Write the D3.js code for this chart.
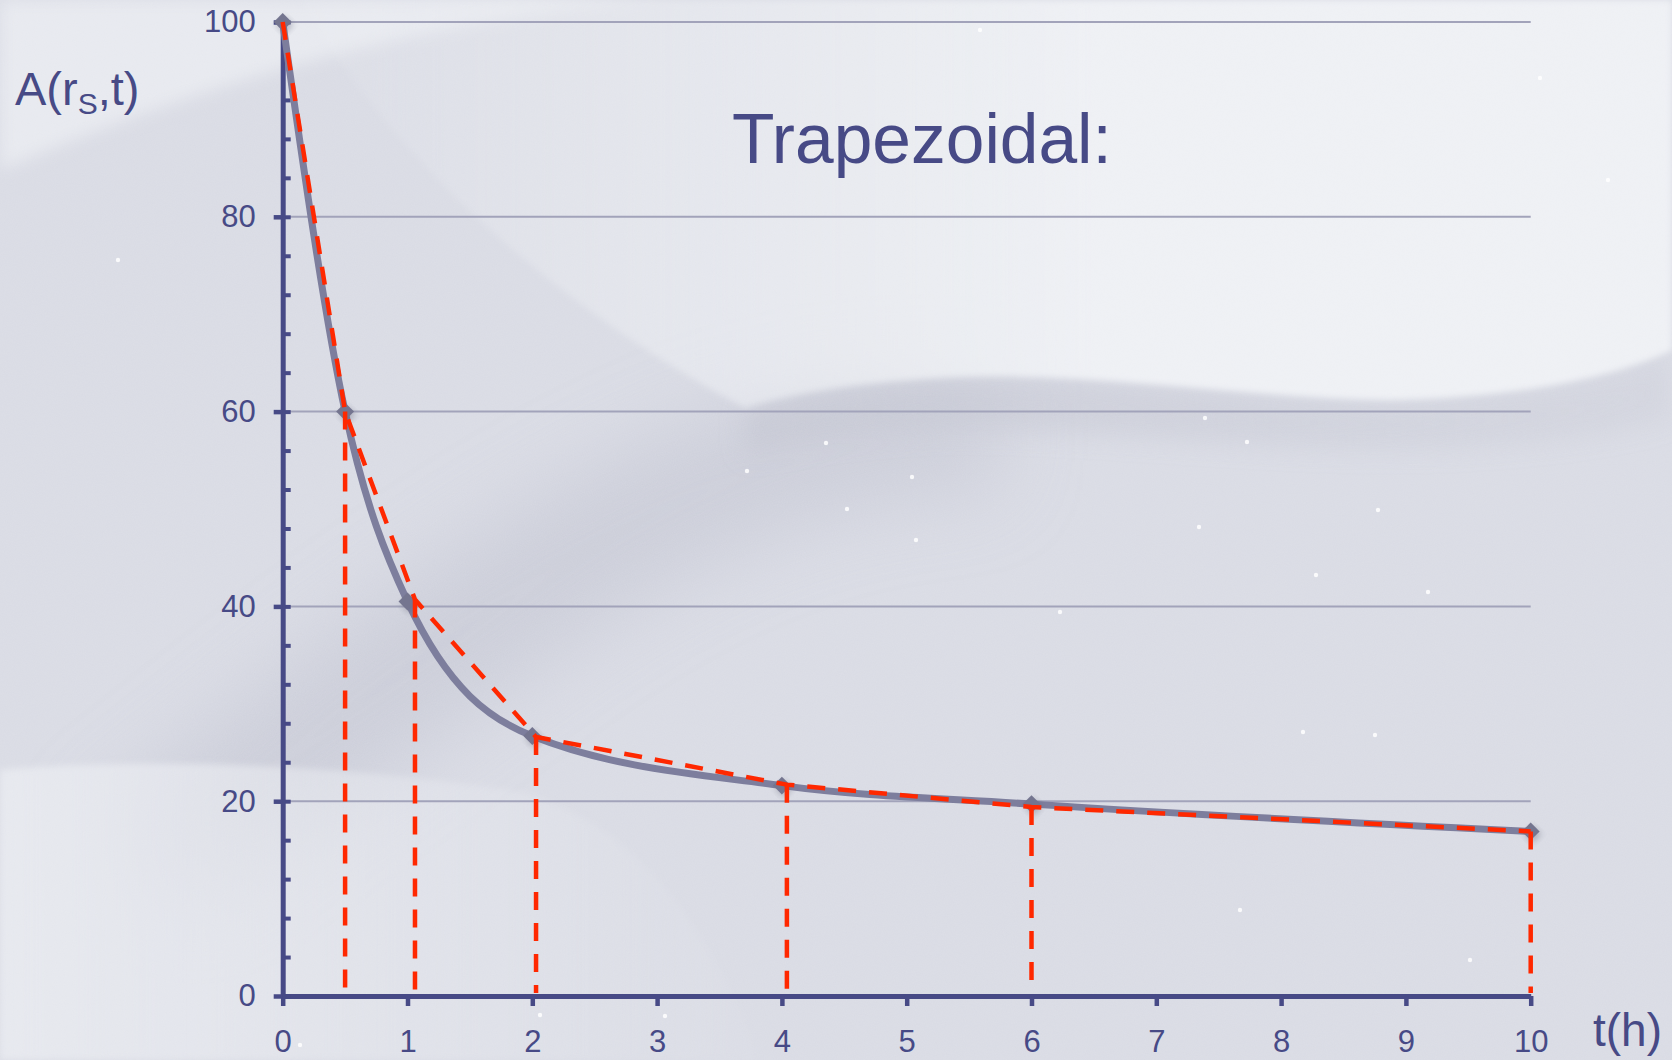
<!DOCTYPE html>
<html>
<head>
<meta charset="utf-8">
<script src="https://cdn.jsdelivr.net/npm/d3@7"></script>
<style>
  body { margin: 0; background: #d9dbe5; overflow: hidden; }
  text { font-family: "Liberation Sans", Arial, Helvetica, sans-serif; fill: #474a86; }
</style>
</head>
<body>
<svg id="chart" width="1672" height="1060"></svg>
<script>
/**
 * Daten: Aktivitaet A(rS,t) gegen Zeit t(h)
 */
var zeiten = [0, 0.5, 1, 2, 4, 6, 10];
var aktivitaet = [100, 60, 40.5, 26.7, 21.6, 19.7, 16.9];

// Trapez-Stuetzstellen (rote Linie), leicht versetzt wie im Bild
var trapezZeiten = [0, 0.5, 1.06, 2.03, 4.04, 6, 10];
var trapezWerte = [100, 60, 40.7, 26.6, 21.7, 19.4, 16.9];

var xTickWerte = [0, 1, 2, 3, 4, 5, 6, 7, 8, 9, 10];
var yTickWerte = [0, 20, 40, 60, 80, 100];
var yNebenTicks = [0, 4, 8, 12, 16, 20, 24, 28, 32, 36, 40, 44, 48, 52, 56, 60,
  64, 68, 72, 76, 80, 84, 88, 92, 96, 100];

var titel = "Trapezoidal:";
var xTitel = "t(h)";

var W = 1672, H = 1060;
var farbeAchse = "#474a86";

var svg = d3.select("#chart");
var defs = svg.append("defs");

var x = d3.scaleLinear().domain([0, 10]).range([282.7, 1530.7]);
var y = d3.scaleLinear().domain([0, 100]).range([996, 22]);

/**
 * Hintergrund: Schneeflaeche
 */
function weichFilter(id, std) {
  defs.append("filter").attr("id", id)
    .attr("x", "-30%").attr("y", "-30%").attr("width", "160%").attr("height", "160%")
    .append("feGaussianBlur").attr("stdDeviation", std);
}
weichFilter("weich40", 40);
weichFilter("weich12", 12);
weichFilter("weich8", 8);
weichFilter("weich3", 3);

function verlauf(id, x1, x2, farbe, o1, o2) {
  var g = defs.append("linearGradient").attr("id", id)
    .attr("gradientUnits", "userSpaceOnUse")
    .attr("x1", x1).attr("y1", 0).attr("x2", x2).attr("y2", 0);
  g.append("stop").attr("offset", 0).attr("stop-color", farbe).attr("stop-opacity", o1);
  g.append("stop").attr("offset", 1).attr("stop-color", farbe).attr("stop-opacity", o2);
}
verlauf("hellRechts", 250, 1100, "#eef0f4", 0, 1);
verlauf("hellLinks", 0, 800, "#e6e8ee", 1, 0);
verlauf("randDunkel", 700, 1672, "#c3c5d1", 0.9, 0.4);

var bg = svg.append("g").attr("class", "hintergrund");
bg.append("rect").attr("width", W).attr("height", H).attr("fill", "#d9dbe4");

// dunkler Schwung diagonal
bg.append("path")
  .attr("d", "M80,830 C250,700 450,520 700,420 C800,385 900,375 1000,385 L1000,490 C850,490 700,550 560,650 C420,750 300,830 200,910 Z")
  .attr("fill", "#c2c4d1").attr("opacity", 0.6).attr("filter", "url(#weich40)");

// Schattenrand unter der hellen Flaeche
bg.append("path")
  .attr("d", "M745,408 C790,394 860,381 960,377 C1100,372 1250,398 1390,400 C1490,398 1600,384 1672,350 L1672,420 C1600,440 1490,450 1390,450 C1250,450 1100,430 960,430 C860,432 790,445 745,455 Z")
  .attr("fill", "url(#randDunkel)").attr("opacity", 0.7).attr("filter", "url(#weich12)");

// obere Ecke links
bg.append("path")
  .attr("d", "M0,0 L660,0 C420,20 210,80 0,170 Z")
  .attr("fill", "#e7e9ef").attr("filter", "url(#weich8)");

// grosse helle Flaeche oben rechts
bg.append("path")
  .attr("d", "M500,0 L1672,0 L1672,350 C1600,384 1490,398 1390,400 C1250,398 1100,372 960,377 C860,381 790,394 745,408 C600,330 420,200 300,0 Z")
  .attr("fill", "url(#hellRechts)").attr("filter", "url(#weich3)");

// heller Streifen unten links
bg.append("path")
  .attr("d", "M0,770 C140,758 330,762 520,792 C620,820 700,900 760,1060 L0,1060 Z")
  .attr("fill", "url(#hellLinks)").attr("filter", "url(#weich3)");

// Koernung
var korn = defs.append("filter").attr("id", "korn");
korn.append("feTurbulence").attr("type", "fractalNoise")
  .attr("baseFrequency", 0.9).attr("numOctaves", 2).attr("seed", 3);
korn.append("feColorMatrix").attr("type", "matrix")
  .attr("values", "0 0 0 0 1  0 0 0 0 1  0 0 0 0 1  0 0 0 0.5 0");
bg.append("rect").attr("width", W).attr("height", H)
  .attr("filter", "url(#korn)").attr("opacity", 0.18);

// einzelne Schneekoerner
var flocken = [[826, 443], [747, 471], [912, 477], [847, 509], [916, 540],
  [1247, 442], [1199, 527], [1316, 575], [1375, 735], [1205, 418], [540, 1015],
  [665, 1016], [1060, 612], [118, 260], [1540, 78], [1608, 180], [980, 30],
  [1240, 910], [300, 1045], [1470, 960], [1378, 510], [1428, 592], [1303, 732]];
bg.selectAll("circle.flocke").data(flocken).enter().append("circle")
  .attr("class", "flocke")
  .attr("cx", function(d) { return d[0]; })
  .attr("cy", function(d) { return d[1]; })
  .attr("r", 2.2)
  .attr("fill", "#ffffff").attr("opacity", 0.85);

/**
 * Gitterlinien
 */
svg.append("g").attr("class", "gitter")
  .selectAll("line").data(yTickWerte.filter(function(d) { return d > 0; }))
  .enter().append("line")
  .attr("x1", x(0)).attr("x2", x(10))
  .attr("y1", function(d) { return y(d); })
  .attr("y2", function(d) { return y(d); })
  .attr("stroke", "#a2a3ba").attr("stroke-width", 2);

/**
 * Achsen
 */
var xAchse = svg.append("g").attr("transform", "translate(0," + y(0) + ")")
  .call(d3.axisBottom(x).tickValues(xTickWerte).tickSizeInner(10).tickSizeOuter(0)
    .tickPadding(0).tickFormat(d3.format("d")));
xAchse.select(".domain").attr("stroke", farbeAchse).attr("stroke-width", 5);
xAchse.selectAll(".tick line").attr("stroke", farbeAchse).attr("stroke-width", 4.5);
// Beschriftung knapp ueber dem unteren Rand
xAchse.selectAll(".tick text")
  .attr("y", 56).attr("dy", null)
  .style("font-size", "31px").style("fill", farbeAchse);

// Nebenstriche rechts der y-Achse
var yNeben = svg.append("g").attr("transform", "translate(" + x(0) + ",0)")
  .call(d3.axisRight(y).tickValues(yNebenTicks).tickSize(8).tickFormat(""));
yNeben.select(".domain").remove();
yNeben.selectAll(".tick line").attr("stroke", farbeAchse).attr("stroke-width", 4);

var yAchse = svg.append("g").attr("transform", "translate(" + x(0) + ",0)")
  .call(d3.axisLeft(y).tickValues(yTickWerte).tickSizeInner(9).tickSizeOuter(0)
    .tickPadding(18));
yAchse.select(".domain").attr("stroke", farbeAchse).attr("stroke-width", 5);
yAchse.selectAll(".tick line").attr("stroke", farbeAchse).attr("stroke-width", 4.5);
yAchse.selectAll(".tick text")
  .style("font-size", "31px").style("fill", farbeAchse);

/**
 * Graue Kurve mit Rauten
 */
var punkte = zeiten.map(function(t, i) { return [t, aktivitaet[i]]; });
var kurve = d3.line()
  .x(function(d) { return x(d[0]); })
  .y(function(d) { return y(d[1]); })
  .curve(d3.curveMonotoneX);

svg.append("path").datum(punkte)
  .attr("d", kurve)
  .attr("fill", "none")
  .attr("stroke", "#7d7e9d")
  .attr("stroke-width", 7)
  .attr("stroke-linejoin", "round");

var raute = d3.symbol().type(d3.symbolSquare).size(160);
var rauten = svg.append("g").attr("class", "rauten");
// Schatten
rauten.selectAll("path.schatten").data(punkte).enter().append("path")
  .attr("class", "schatten")
  .attr("d", raute)
  .attr("transform", function(d) { return "translate(" + (x(d[0]) + 2) + "," + (y(d[1]) + 3) + ") rotate(45)"; })
  .attr("fill", "#5a5b70").attr("opacity", 0.35).attr("filter", "url(#weich3)");
rauten.selectAll("path.raute").data(punkte).enter().append("path")
  .attr("class", "raute")
  .attr("d", raute)
  .attr("transform", function(d) { return "translate(" + x(d[0]) + "," + y(d[1]) + ") rotate(45)"; })
  .attr("fill", "#74758f");

/**
 * Rote gestrichelte Trapeze
 */
var trapez = trapezZeiten.map(function(t, i) { return [t, trapezWerte[i]]; });
var rot = svg.append("g").attr("class", "trapez")
  .attr("stroke", "#ff2800").attr("stroke-width", 4.5)
  .attr("stroke-dasharray", "18,13").attr("fill", "none");

rot.append("path").datum(trapez)
  .attr("d", d3.line()
    .x(function(d) { return x(d[0]); })
    .y(function(d) { return y(d[1]); }));

rot.selectAll("line").data(trapez.slice(1)).enter().append("line")
  .attr("x1", function(d) { return x(d[0]); })
  .attr("x2", function(d) { return x(d[0]); })
  .attr("y1", function(d) { return y(d[1]); })
  .attr("y2", y(0) - 3);

/**
 * Beschriftungen
 */
svg.append("text")
  .attr("x", 732).attr("y", 163)
  .style("font-size", "69.5px")
  .text(titel);

var yTitel = svg.append("text")
  .attr("x", 15).attr("y", 105)
  .style("font-size", "47px");
yTitel.append("tspan").text("A(r");
yTitel.append("tspan").attr("dy", 9).style("font-size", "30px").text("S");
yTitel.append("tspan").attr("dy", -9).text(",t)");

svg.append("text")
  .attr("x", 1593).attr("y", 1046)
  .style("font-size", "46px")
  .text(xTitel);
</script>
</body>
</html>
